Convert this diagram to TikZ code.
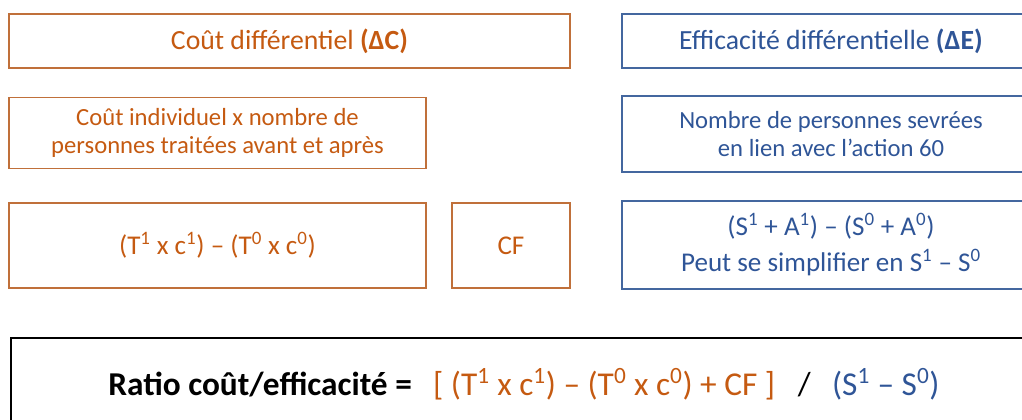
\documentclass[tikz,border=0pt]{standalone}
\usepackage{fontspec}
\setmainfont{Carlito}
\definecolor{coutorange}{HTML}{C55A11}
\definecolor{coutframe}{HTML}{C0703A}
\definecolor{effblue}{HTML}{2F5597}
\definecolor{effframe}{HTML}{44679F}
\newlength\pxl
\setlength\pxl{0.75pt}
\newcommand{\up}[1]{\textsuperscript{#1}}

\begin{document}
\begin{tikzpicture}[x=0.75pt, y=-0.75pt,
        coutbox/.style={draw=coutframe, line width=1.1pt, text=coutorange, align=center, inner sep=0pt},
        effbox/.style={draw=effframe, line width=1.1pt, text=effblue, align=center, inner sep=0pt},
        headfont/.style={font=\fontsize{20.8}{25}\selectfont},
        bodyfont/.style={font=\fontsize{18.5}{21}\selectfont},
        calcfont/.style={font=\fontsize{20.3}{27}\selectfont}]
        \useasboundingbox (0, 0) rectangle (1022, 420);
        \clip (0, 0) rectangle (1022, 420);

        % titres
        \node[coutbox, headfont, minimum width=561\pxl, minimum height=54\pxl] (couthead) at (289.5, 41) {Coût différentiel \textbf{(ΔC)}};
        \node[effbox, headfont, minimum width=418\pxl, minimum height=54\pxl] (effhead) at (831, 41) {Efficacité différentielle \textbf{(ΔE)}};

        % definitions
        \node[coutbox, bodyfont, minimum width=417\pxl, minimum height=71\pxl] (coutdef) at (217.5, 133) {Coût individuel x nombre de\\personnes traitées avant et après};
        \node[effbox, bodyfont, minimum width=418\pxl, minimum height=76\pxl] (effdef) at (831, 134) {Nombre de personnes sevrées\\en lien avec l’action 60};

        % formules
        \node[coutbox, calcfont, minimum width=417\pxl, minimum height=85\pxl] (coutcalc) at (217.5, 245.5) {(T\up1 x c\up1) – (T\up0 x c\up0)};
        \node[coutbox, calcfont, minimum width=118\pxl, minimum height=85\pxl] (cf) at (511, 245.5) {CF};
        \node[effbox, calcfont, minimum width=418\pxl, minimum height=88\pxl] (effcalc) at (831, 245) {(S\up1 + A\up1) – (S\up0 + A\up0)\\Peut se simplifier en S\up1 – S\up0};

        % ratio
        \node[draw=black, line width=1.8pt, inner sep=0pt, minimum width=1026\pxl, minimum height=92\pxl, font=\fontsize{25}{30}\selectfont] (ratio) at (524, 384)
            {\textbf{Ratio coût/efficacité =}\hspace{16pt}{\color{coutorange}[ (T\up1 x c\up1) – (T\up0 x c\up0) + CF ]}\hspace{17pt}/\hspace{16pt}{\color{effblue}(S\up1 – S\up0)}};

\end{tikzpicture}
\end{document}
